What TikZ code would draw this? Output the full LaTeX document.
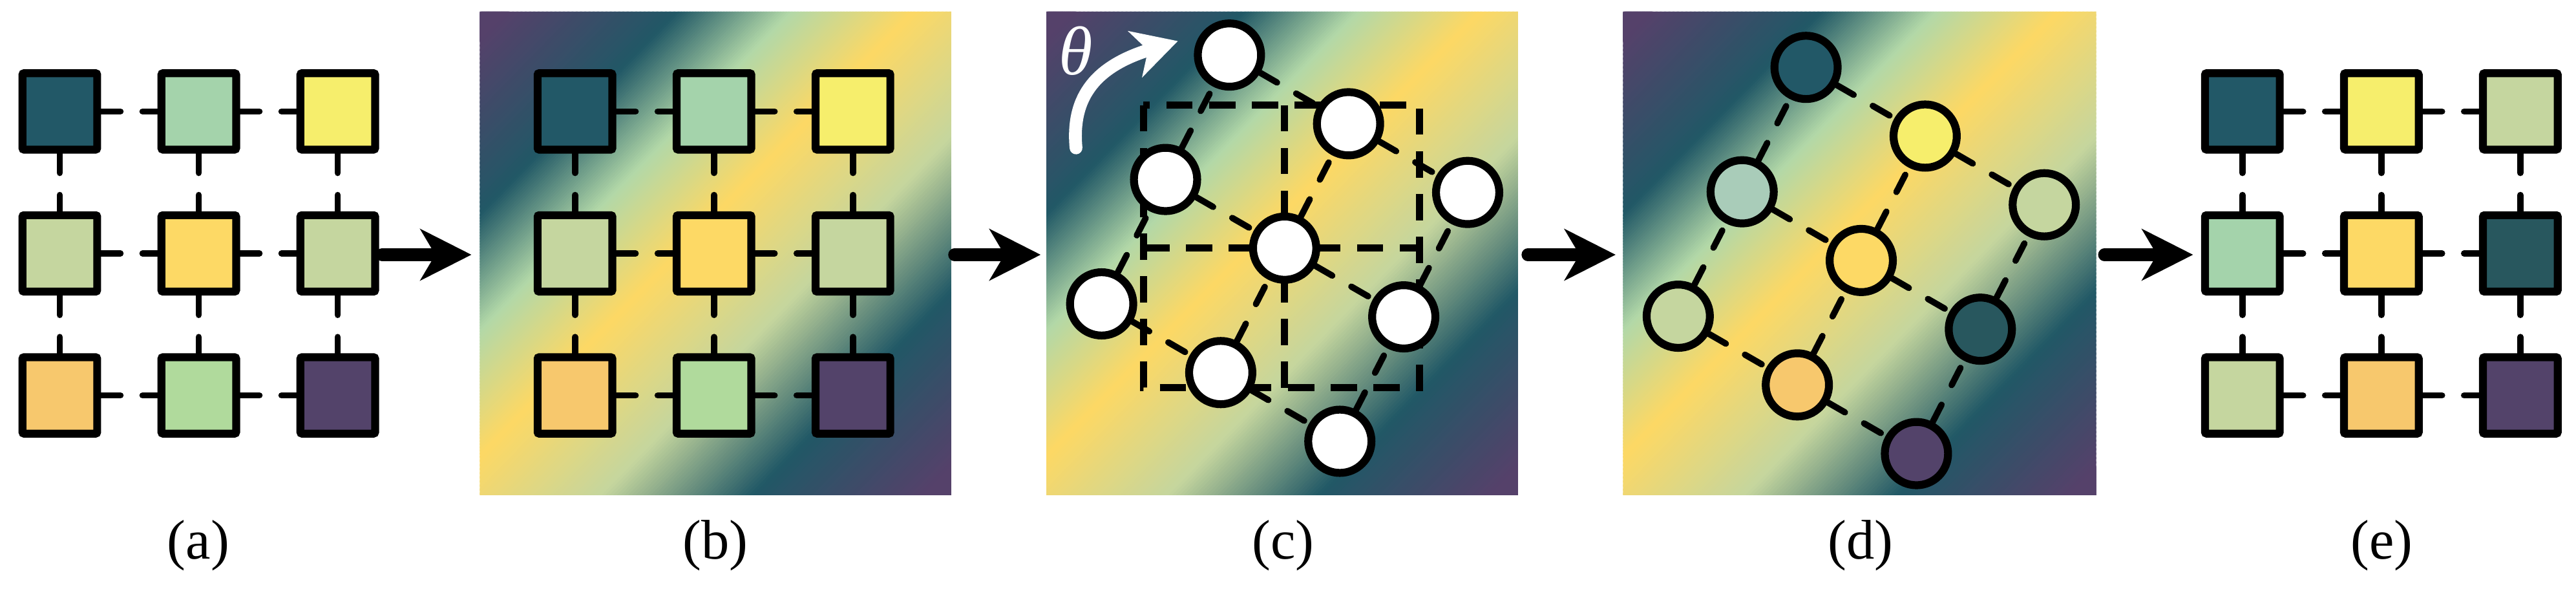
\documentclass[tikz,border=0pt]{standalone}
\usepackage{fontspec}
\setmainfont{Liberation Serif}
\usetikzlibrary{arrows.meta,calc}
\definecolor{vp}{HTML}{55416A}
\definecolor{vt}{HTML}{215866}
\definecolor{vm}{HTML}{B2D8A8}
\definecolor{vy}{HTML}{FDD864}
\definecolor{vg}{HTML}{C5D69E}
\definecolor{cT}{HTML}{225867}
\definecolor{cM}{HTML}{A4D3AB}
\definecolor{cY}{HTML}{F6EE6C}
\definecolor{cLG}{HTML}{C5D69F}
\definecolor{cO}{HTML}{FDD965}
\definecolor{cOr}{HTML}{F7C86D}
\definecolor{cG}{HTML}{B0DA9C}
\definecolor{cP}{HTML}{53436A}
\definecolor{cT2}{HTML}{28575E}
\definecolor{cB}{HTML}{A9CCB9}
\newcommand\vgrad[4]{%
 \begin{scope}
 \clip (#1,#2) rectangle (#3,#4);
 \foreach \pa/\pb/\ca/\cb in {0/0.03/vp/vp, 0.03/0.21/vp/vt, 0.21/0.33/vt/vm, 0.33/0.46/vm/vy, 0.46/0.63/vy/vg, 0.63/0.79/vg/vt, 0.79/0.97/vt/vp, 0.97/1.02/vp/vp}{
   \foreach \k in {0,...,39}{
     \pgfmathsetmacro\qa{\pa+(\pb-\pa)*\k/40}
     \pgfmathsetmacro\qb{\pa+(\pb-\pa)*(\k+1)/40+0.002}
     \pgfmathsetmacro\mixv{100*(\k+0.5)/40}
     \fill[\cb!\mixv!\ca] ({#1+2*\qa*(#3-#1)},#2) -- ({#1+2*\qb*(#3-#1)},#2) -- (#1,{#2+2*\qb*(#4-#2)}) -- (#1,{#2+2*\qa*(#4-#2)}) -- cycle;
   }}
 \end{scope}}
\tikzset{
 sq/.style={draw, line width=4.8pt, minimum width=45.5pt, minimum height=46.5pt, inner sep=0pt, rounded corners=1pt},
 circ/.style={circle, draw, line width=4.8pt, minimum size=38.5pt, inner sep=0pt},
 lnk/.style={line width=3.8pt, line cap=round, dash pattern=on 11.8pt off 13.4pt},
 grd/.style={line width=4.3pt, dash pattern=on 16pt off 10pt},
 bigarr/.style={line width=7.6pt, line cap=round, -{Stealth[length=31pt,width=31pt,inset=9pt]}},
 lab/.style={font=\fontsize{34}{34}\selectfont}
}
\begin{document}
\begin{tikzpicture}[x=1pt,y=-1pt]
\useasboundingbox (0,0) rectangle (1568.1,358);
% backgrounds
\vgrad{292}{7}{579}{301}
\vgrad{637}{7}{924}{301}
\vgrad{988}{7}{1276}{301}
% square grids (a), (b), (e)
\foreach \pre/\xo/\cols in {a/36.4/{cT,cM,cY,cLG,cO,cLG,cOr,cG,cP}, b/350/{cT,cM,cY,cLG,cO,cLG,cOr,cG,cP}, e/1365/{cT,cY,cLG,cM,cO,cT2,cLG,cOr,cP}}{
  \foreach \col [count=\n from 0] in \cols {
    \pgfmathtruncatemacro\r{div(\n,3)}
    \pgfmathtruncatemacro\c{mod(\n,3)}
    \node[sq, fill=\col] (\pre\r\c) at ({\xo+84.6*\c},{67.8+86.4*\r}) {};
  }
  \foreach \r in {0,1,2}{
    \draw[lnk] (\pre\r0) -- (\pre\r1);
    \draw[lnk] (\pre\r1) -- (\pre\r2);
    \draw[lnk] (\pre0\r) -- (\pre1\r);
    \draw[lnk] (\pre1\r) -- (\pre2\r);
  }
}
% (c) dashed squares
\draw[grd] (696,64) rectangle (864,236);
\draw[grd] (782,64) -- (782,236);
\draw[grd] (696,151) -- (864,151);
% rotated lattices (c) and (d)
\foreach \pre/\cx/\cy/\cols in {c/782/151/{white,white,white,white,white,white,white,white,white}, d/1133/158.5/{cLG,cOr,cP,cB,cO,cT2,cT,cY,cLG}}{
  \foreach \col [count=\n from 0] in \cols {
    \pgfmathtruncatemacro\ii{div(\n,3)}
    \pgfmathtruncatemacro\jj{mod(\n,3)}
    \pgfmathsetmacro\px{\cx+72.5*(\jj-1)+38.9*(\ii-1)}
    \pgfmathsetmacro\py{\cy+41.8*(\jj-1)-75.7*(\ii-1)}
    \node[circ, fill=\col] (\pre\jj\ii) at (\px,\py) {};
  }
  \foreach \k in {0,1,2}{
    \draw[lnk] (\pre0\k) -- (\pre1\k);
    \draw[lnk] (\pre1\k) -- (\pre2\k);
    \draw[lnk] (\pre\k0) -- (\pre\k1);
    \draw[lnk] (\pre\k1) -- (\pre\k2);
  }
}
% theta arrow
\draw[white, line width=7.8pt, line cap=round, -{Stealth[length=27pt,width=29pt,inset=8pt]}] (655,90) .. controls (652,58) and (668,40) .. (717,25);
\node[white, font=\fontsize{42}{42}\selectfont\itshape] (th) at (655,31) {θ};
% arrows
\coordinate (s1) at (232.6,155); \coordinate (t1) at (287,155);
\coordinate (s2) at (581,155); \coordinate (t2) at (633.5,155);
\coordinate (s3) at (930,155); \coordinate (t3) at (983.5,155);
\coordinate (s4) at (1281,155); \coordinate (t4) at (1335,155);
\draw[bigarr] (s1) -- (t1);
\draw[bigarr] (s2) -- (t2);
\draw[bigarr] (s3) -- (t3);
\draw[bigarr] (s4) -- (t4);
% labels
\node[lab] (la) at (120.7,332) {(a)};
\node[lab] (lb) at (435.5,332) {(b)};
\node[lab] (lc) at (781,332) {(c)};
\node[lab] (ld) at (1132.7,332) {(d)};
\node[lab] (le) at (1449.8,332) {(e)};
\end{tikzpicture}
\end{document}
